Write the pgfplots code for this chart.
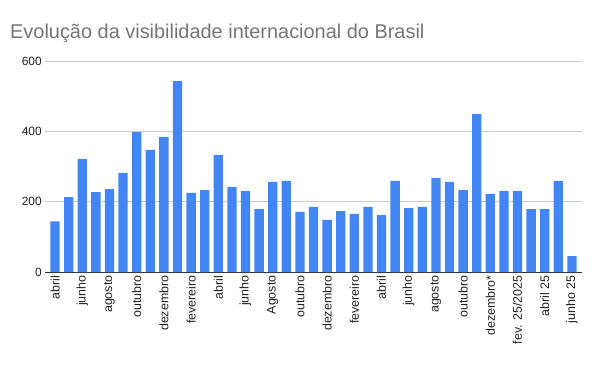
\documentclass[border=0pt]{standalone}
\usepackage{fontspec}
\setmainfont{Liberation Sans}
\usepackage{pgfplots}
\pgfplotsset{compat=1.18}
\definecolor{barblue}{HTML}{4285F4}
\definecolor{titlegray}{HTML}{757575}
\definecolor{gridgray}{HTML}{CCCCCC}
\definecolor{labelgray}{HTML}{222222}
\begin{document}
\begin{tikzpicture}[x=1bp,y=1bp]
\path[use as bounding box] (0,0) rectangle (600,371);
\node[anchor=base west, text=titlegray, font=\fontsize{20}{24}\selectfont, inner sep=0] at (10,333) {Evolução da visibilidade internacional do Brasil};
\begin{axis}[
  at={(45.3bp,99bp)}, anchor=south west,
  scale only axis, width=536.4bp, height=211bp,
  xmin=-0.72, xmax=38.72, ymin=0, ymax=600,
  ytick={0,200,400,600},
  xtick={0,2,...,38},
  xticklabels={abril,junho,agosto,outubro,dezembro,fevereiro,abril,junho,Agosto,outubro,dezembro,fevereiro,abril,junho,agosto,outubro,dezembro*,fev. 25/2025,abril 25,junho 25},
  x tick label style={rotate=90, anchor=east, font=\fontsize{12.5}{14}\selectfont, text=labelgray},
  y tick label style={font=\fontsize{12}{14}\selectfont, text=labelgray},
  /pgf/number format/assume math mode=true,
  ymajorgrids, grid style={gridgray, line width=0.8bp},
  axis x line=bottom, axis y line=left,
  y axis line style={draw=none},
  x axis line style={-, draw=black!80, line width=1bp},
  major tick length=0pt,
  ybar, bar width=9.3bp,
]
\addplot[fill=barblue, draw=none] coordinates {
(0,144) (1,213) (2,321) (3,227) (4,236) (5,282) (6,398) (7,347) (8,384) (9,543)
(10,225) (11,233) (12,333) (13,242) (14,230) (15,179) (16,256) (17,259) (18,171) (19,185)
(20,148) (21,173) (22,165) (23,185) (24,162) (25,259) (26,182) (27,185) (28,267) (29,256)
(30,233) (31,449) (32,222) (33,230) (34,230) (35,179) (36,179) (37,259) (38,45)
};
\end{axis}
\end{tikzpicture}
\end{document}
